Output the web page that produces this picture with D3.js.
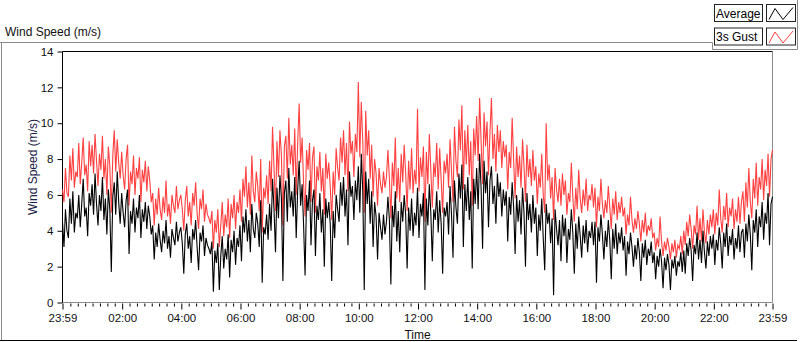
<!DOCTYPE html>
<html>
<head>
<meta charset="utf-8">
<script src="https://cdn.jsdelivr.net/npm/d3@7"></script>
<style>
  body { margin: 0; background: #fff; }
  svg { display: block; font-family: "Liberation Sans", Arial, sans-serif; }
</style>
</head>
<body>
<svg id="chart" width="800" height="342"></svg>
<script>
// samples every 3 minutes from 23:59 to 23:59 (m/s), one row per hour
const STEP_MIN = 3
const average = [
  4.5, 3.1, 5.2, 4.0, 3.6, 5.8, 4.4, 6.2, 3.9, 5.0, 4.7, 6.0, 4.2, 5.5, 6.9, 4.8, 5.3, 3.7, 6.1, 5.4,
  6.6, 4.9, 7.2, 5.5, 4.3, 6.0, 5.1, 7.0, 4.6, 5.8, 3.8, 6.3, 5.2, 1.7, 5.9, 6.7, 4.9, 7.3, 5.6, 4.4,
  6.1, 5.0, 4.2, 5.7, 6.3, 2.7, 5.1, 4.4, 5.8, 3.9, 5.3, 4.7, 6.0, 3.6, 5.2, 4.5, 5.6, 4.1, 5.4, 4.8,
  3.8, 4.3, 2.4, 3.9, 3.1, 4.4, 3.5, 2.8, 4.0, 3.3, 4.6, 3.0, 3.7, 2.5, 4.1, 3.6, 3.2, 4.5, 3.4, 3.9,
  4.2, 3.3, 1.6, 3.8, 4.4, 3.0, 3.7, 2.2, 4.1, 3.5, 4.6, 3.1, 1.8, 3.9, 3.4, 4.3, 2.6, 3.6, 3.2, 3.0,
  2.7, 3.4, 0.6, 2.9, 2.2, 3.3, 0.7, 2.6, 3.7, 1.9, 3.0, 2.4, 3.8, 1.4, 3.5, 2.8, 4.0, 2.1, 3.6, 3.1,
  4.3, 2.3, 4.8, 3.9, 5.2, 3.4, 4.6, 2.8, 5.5, 4.1, 3.6, 5.0, 4.4, 3.1, 5.7, 1.1, 4.2, 3.8, 4.9, 3.5,
  5.5, 4.0, 6.9, 5.2, 2.8, 6.4, 4.7, 7.1, 5.8, 1.2, 6.1, 6.8, 4.5, 7.5, 5.3, 6.2, 4.8, 7.0, 3.6, 6.3,
  7.9, 5.4, 6.6, 4.3, 1.5, 6.0, 5.1, 6.8, 3.2, 5.7, 6.3, 2.6, 5.4, 4.6, 6.1, 3.9, 5.2, 2.0, 5.8, 4.7,
  5.6, 4.4, 1.2, 5.1, 3.6, 6.0, 5.2, 4.5, 6.7, 5.4, 7.0, 4.8, 6.3, 3.2, 7.3, 5.9, 6.5, 4.6, 6.8, 5.7,
  7.6, 5.0, 8.3, 6.2, 0.7, 7.3, 5.5, 6.9, 4.4, 6.2, 3.1, 5.6, 4.8, 2.4, 5.0, 4.2, 3.5, 4.9, 3.8, 4.5,
  5.9, 4.6, 1.0, 5.4, 4.2, 6.2, 3.4, 5.1, 2.8, 5.6, 4.5, 6.0, 4.9, 1.9, 5.3, 4.0, 5.8, 3.7, 5.0, 4.3,
  6.4, 3.6, 5.5, 4.8, 6.1, 0.7, 5.8, 4.3, 6.6, 5.0, 2.3, 5.2, 4.6, 6.2, 3.9, 5.7, 4.4, 1.6, 5.3, 4.8,
  5.6, 3.8, 6.5, 4.9, 2.5, 6.8, 5.3, 4.4, 7.2, 5.8, 7.7, 3.1, 6.6, 5.1, 7.0, 4.6, 6.2, 1.9, 6.9, 5.5,
  7.5, 5.2, 8.3, 6.4, 3.0, 7.9, 6.1, 7.3, 4.2, 6.8, 7.6, 5.5, 6.5, 4.4, 7.2, 5.9, 6.7, 4.8, 6.3, 5.4,
  6.2, 3.4, 5.9, 4.9, 6.7, 5.3, 2.7, 6.0, 4.5, 5.7, 3.8, 6.4, 5.0, 2.0, 6.1, 4.6, 5.5, 3.9, 6.0, 4.4,
  5.3, 2.6, 4.9, 4.0, 5.8, 3.6, 1.8, 5.5, 4.4, 5.0, 3.3, 4.7, 0.4, 5.2, 4.1, 3.2, 4.6, 2.3, 4.9, 3.7,
  4.7, 2.2, 4.1, 3.5, 5.2, 3.9, 1.6, 4.4, 3.0, 4.8, 3.7, 2.5, 4.3, 3.3, 4.6, 2.8, 4.0, 3.6, 4.5, 3.2,
  4.5, 1.1, 4.2, 3.4, 4.9, 3.8, 2.4, 4.0, 3.1, 4.6, 3.5, 1.3, 4.1, 3.0, 4.4, 2.7, 3.9, 3.3, 4.2, 2.9,
  3.7, 1.5, 3.4, 2.7, 3.9, 3.1, 2.0, 3.2, 2.4, 3.6, 2.8, 1.2, 3.3, 2.5, 3.5, 2.1, 3.0, 2.6, 3.4, 2.2,
  2.8, 1.3, 2.6, 2.0, 3.0, 2.3, 0.8, 2.5, 1.8, 2.7, 2.1, 0.7, 2.4, 1.9, 2.6, 1.5, 2.3, 2.0, 2.8, 1.7,
  2.9, 1.6, 3.3, 2.6, 3.6, 2.9, 1.2, 3.2, 2.7, 3.9, 2.4, 3.5, 2.2, 4.0, 2.8, 1.9, 3.4, 2.6, 3.7, 3.0,
  3.8, 2.1, 3.5, 2.9, 4.2, 3.3, 1.9, 3.9, 3.1, 4.4, 2.6, 3.7, 3.2, 4.1, 2.4, 3.6, 3.0, 4.3, 2.8, 3.9,
  4.1, 2.5, 4.4, 3.4, 4.9, 3.8, 1.8, 4.6, 3.9, 5.2, 3.1, 4.8, 4.2, 5.6, 3.5, 5.0, 4.4, 6.1, 3.2, 5.5,
  5.9
]
const gust = [
  6.3, 5.6, 7.5, 6.1, 5.9, 8.2, 6.8, 8.6, 6.4, 7.3, 7.0, 8.9, 6.6, 7.8, 9.2, 7.1, 7.7, 6.2, 9.0, 7.6,
  8.8, 7.2, 9.4, 7.9, 6.5, 8.3, 7.4, 9.3, 6.9, 8.0, 6.0, 8.7, 7.6, 5.0, 8.2, 9.6, 7.3, 9.1, 7.8, 6.9,
  8.4, 7.1, 6.3, 8.0, 8.8, 5.4, 7.3, 6.6, 8.2, 6.0, 7.5, 6.9, 8.1, 5.6, 7.4, 6.7, 7.9, 6.2, 7.6, 6.8,
  5.6, 6.1, 4.3, 5.8, 4.9, 6.4, 5.2, 4.6, 5.9, 5.0, 6.8, 4.8, 5.5, 4.4, 6.0, 5.4, 5.0, 6.5, 5.2, 5.7,
  6.0, 5.2, 4.0, 5.7, 6.5, 4.8, 5.6, 4.3, 6.1, 5.4, 6.7, 5.0, 4.1, 5.8, 5.2, 6.3, 4.5, 5.5, 4.9, 4.7,
  4.4, 5.1, 3.0, 4.6, 3.9, 5.2, 3.1, 4.3, 5.6, 3.7, 4.9, 4.2, 5.8, 3.6, 5.5, 4.7, 6.0, 4.1, 5.6, 5.0,
  6.3, 4.5, 6.9, 5.9, 7.6, 5.3, 6.7, 4.9, 8.2, 6.2, 5.6, 7.3, 6.5, 5.1, 8.0, 3.9, 6.4, 5.8, 7.1, 5.5,
  7.9, 6.2, 9.8, 7.5, 5.1, 9.0, 7.0, 9.6, 8.2, 4.3, 8.7, 9.3, 6.9, 10.3, 7.7, 8.8, 7.1, 9.7, 6.0, 8.9,
  11.1, 7.8, 9.2, 6.6, 4.8, 8.5, 7.4, 8.9, 5.6, 8.1, 8.7, 5.0, 7.6, 6.8, 8.4, 6.2, 7.5, 4.9, 8.3, 6.9,
  7.8, 6.5, 4.6, 7.3, 6.0, 8.6, 7.5, 6.8, 9.2, 7.8, 9.6, 7.1, 8.9, 6.2, 10.1, 8.3, 9.0, 7.0, 9.4, 8.4,
  12.3, 8.1, 11.2, 9.0, 5.0, 10.7, 8.2, 9.6, 6.9, 8.8, 5.9, 8.0, 7.2, 5.4, 7.5, 6.6, 6.1, 7.3, 6.4, 7.0,
  8.5, 6.9, 4.7, 7.8, 6.5, 9.2, 5.8, 7.5, 5.6, 8.3, 6.7, 8.8, 7.2, 5.1, 7.9, 6.3, 8.6, 6.1, 7.4, 6.6,
  10.8, 6.2, 8.1, 7.0, 8.7, 4.5, 8.4, 6.6, 9.4, 7.4, 5.3, 7.8, 7.0, 8.9, 6.3, 8.6, 6.8, 5.0, 7.9, 7.2,
  8.3, 6.4, 9.1, 7.3, 5.6, 9.8, 7.9, 7.0, 10.2, 8.5, 11.0, 6.3, 9.6, 7.7, 9.9, 7.1, 9.0, 5.4, 9.7, 8.2,
  10.4, 7.9, 11.4, 9.0, 6.6, 10.6, 8.7, 10.1, 7.1, 9.5, 11.4, 8.0, 9.4, 7.3, 9.9, 8.4, 9.6, 7.5, 9.0, 8.1,
  8.8, 6.3, 8.4, 7.5, 10.3, 7.9, 5.8, 8.7, 7.0, 8.2, 6.4, 9.1, 7.6, 5.6, 8.8, 7.0, 8.0, 6.5, 8.5, 6.8,
  7.6, 5.5, 7.2, 6.4, 8.3, 6.0, 5.0, 10.0, 6.8, 7.7, 5.8, 7.0, 4.6, 7.5, 6.3, 5.6, 6.9, 5.4, 7.2, 6.0,
  6.8, 4.9, 6.1, 5.6, 7.8, 5.9, 4.5, 6.4, 5.2, 7.4, 5.8, 5.0, 6.3, 5.4, 6.9, 5.1, 6.0, 5.7, 6.6, 5.3,
  6.4, 4.2, 5.9, 5.1, 6.9, 5.5, 4.7, 5.7, 5.0, 6.5, 5.3, 4.1, 5.8, 4.9, 6.2, 4.6, 5.6, 5.0, 5.9, 4.8,
  5.3, 3.8, 4.9, 4.3, 5.9, 4.6, 3.9, 4.7, 4.1, 5.1, 4.4, 3.4, 4.6, 3.9, 5.0, 3.7, 4.3, 4.0, 4.7, 3.6,
  3.9, 2.9, 3.6, 3.1, 4.8, 3.4, 2.6, 3.4, 2.9, 3.6, 3.1, 2.4, 3.3, 2.8, 3.5, 2.5, 3.2, 3.0, 3.7, 2.7,
  4.0, 3.2, 4.5, 3.7, 4.9, 4.1, 3.0, 4.3, 3.8, 5.4, 3.5, 4.7, 3.4, 5.2, 3.9, 3.3, 4.6, 3.8, 4.9, 4.2,
  5.2, 3.8, 5.0, 4.3, 6.3, 4.7, 3.9, 5.4, 4.6, 6.1, 4.2, 5.3, 4.8, 5.8, 4.1, 5.2, 4.5, 5.9, 4.4, 5.6,
  6.2, 4.5, 6.7, 5.3, 7.5, 5.6, 4.7, 6.9, 5.8, 7.8, 5.4, 7.0, 6.3, 8.0, 5.7, 7.4, 6.5, 8.3, 5.9, 8.0,
  8.5
]
const yTicks = [0, 2, 4, 6, 8, 10, 12, 14]
const seriesNames = ['Average', '3s Gust']
const seriesColors = ['#000000', '#ff4040']

const start = new Date(2020, 0, 1, 23, 59)
const end = new Date(start.getTime() + 24 * 3600 * 1000)
const timeOf = i => new Date(start.getTime() + i * STEP_MIN * 60000)

const svg = d3.select('#chart')
const plotL = 62.5, plotR = 772.5, plotT = 51.5, plotB = 302.5

const x = d3.scaleTime().domain([start, end]).range([plotL, plotR])
const y = d3.scaleLinear().domain([0, 14]).range([plotB, plotT])

// outer panel
svg.append('line').attr('x1', 0).attr('x2', 712.5).attr('y1', 42.5).attr('y2', 42.5).attr('stroke', '#8c8c8c')
svg.append('line').attr('x1', 1.5).attr('x2', 1.5).attr('y1', 42.5).attr('y2', 341).attr('stroke', '#8c8c8c')
svg.append('line').attr('x1', 0).attr('x2', 797).attr('y1', 340.5).attr('y2', 340.5).attr('stroke', '#000')
svg.append('path').attr('d', 'M712.5,42.5V49.5H797.5V0').attr('fill', 'none').attr('stroke', '#8c8c8c')

svg.append('text').attr('x', 5).attr('y', 36).attr('font-size', 12).attr('fill', '#111').text('Wind Speed (m/s)')

// plot frame
svg.append('path').attr('d', `M${plotL},${plotB}H${plotR}V${plotT}`).attr('fill', 'none').attr('stroke', '#8c8c8c')
svg.append('path').attr('d', `M${plotL},${plotB}V${plotT}H${plotR}`).attr('fill', 'none').attr('stroke', '#000')

// y axis
const yAxis = svg.append('g').attr('transform', `translate(${plotL},0)`)
  .call(d3.axisLeft(y).tickValues(yTicks).tickSize(5).tickPadding(4))
yAxis.select('.domain').remove()
yAxis.selectAll('line').attr('stroke', '#000')
yAxis.selectAll('text').attr('font-size', 11.5).attr('fill', '#111').attr('font-family', 'Liberation Sans, Arial, sans-serif')

// x axis, majors at 23:59, 02:00 ... 22:00, 23:59
const majors = [start, ...d3.timeHour.every(2).range(new Date(start.getTime() + 30 * 60000), end), end]
const minors = d3.timeMinute.every(15).range(new Date(start.getTime() + 5 * 60000), end)
  .filter(d => !(d.getMinutes() === 0 && d.getHours() % 2 === 0))

const xMinor = svg.append('g').attr('transform', `translate(0,${plotB + 1})`)
  .call(d3.axisBottom(x).tickValues(minors).tickSize(3).tickFormat(''))
xMinor.select('.domain').remove()
xMinor.selectAll('line').attr('stroke', '#000')

const xAxis = svg.append('g').attr('transform', `translate(0,${plotB + 1})`)
  .call(d3.axisBottom(x).tickValues(majors).tickSize(6).tickFormat(d3.timeFormat('%H:%M')))
xAxis.select('.domain').remove()
xAxis.selectAll('line').attr('stroke', '#000')
xAxis.selectAll('text').attr('y', 18).attr('dy', 0).attr('font-size', 11.5).attr('fill', '#111')
  .attr('font-family', 'Liberation Sans, Arial, sans-serif')

svg.append('text').attr('x', (plotL + plotR) / 2).attr('y', 338.5).attr('text-anchor', 'middle')
  .attr('font-size', 12).attr('fill', '#111').text('Time')
svg.append('text').attr('transform', 'translate(37,167) rotate(-90)').attr('text-anchor', 'middle')
  .attr('font-size', 12).attr('fill', '#1a2244').text('Wind Speed (m/s)')

// series, gust under average
const line = d3.line().x((d, i) => x(timeOf(i))).y(d => y(d))
;[gust, average].forEach((values, k) => {
  svg.append('path').datum(values)
    .attr('fill', 'none')
    .attr('stroke', seriesColors[1 - k])
    .attr('stroke-width', 1.1)
    .attr('d', line)
})

// legend
const legend = svg.append('g')
seriesNames.forEach((name, k) => {
  const ty = 4.5 + k * 23.5
  legend.append('rect').attr('x', 714.5).attr('y', ty).attr('width', 48).attr('height', 17)
    .attr('fill', '#fff').attr('stroke', '#222')
  legend.append('text').attr('x', 716).attr('y', ty + 13).attr('font-size', 12).attr('fill', '#000').text(name)
  legend.append('rect').attr('x', 766.5).attr('y', ty).attr('width', 29).attr('height', 17)
    .attr('fill', '#fff').attr('stroke', '#222')
  legend.append('path').attr('d', `M769,${ty + 15}L775,${ty + 4}L783,${ty + 15}L793,${ty + 3}`)
    .attr('fill', 'none').attr('stroke', seriesColors[k])
})
</script>
</body>
</html>
